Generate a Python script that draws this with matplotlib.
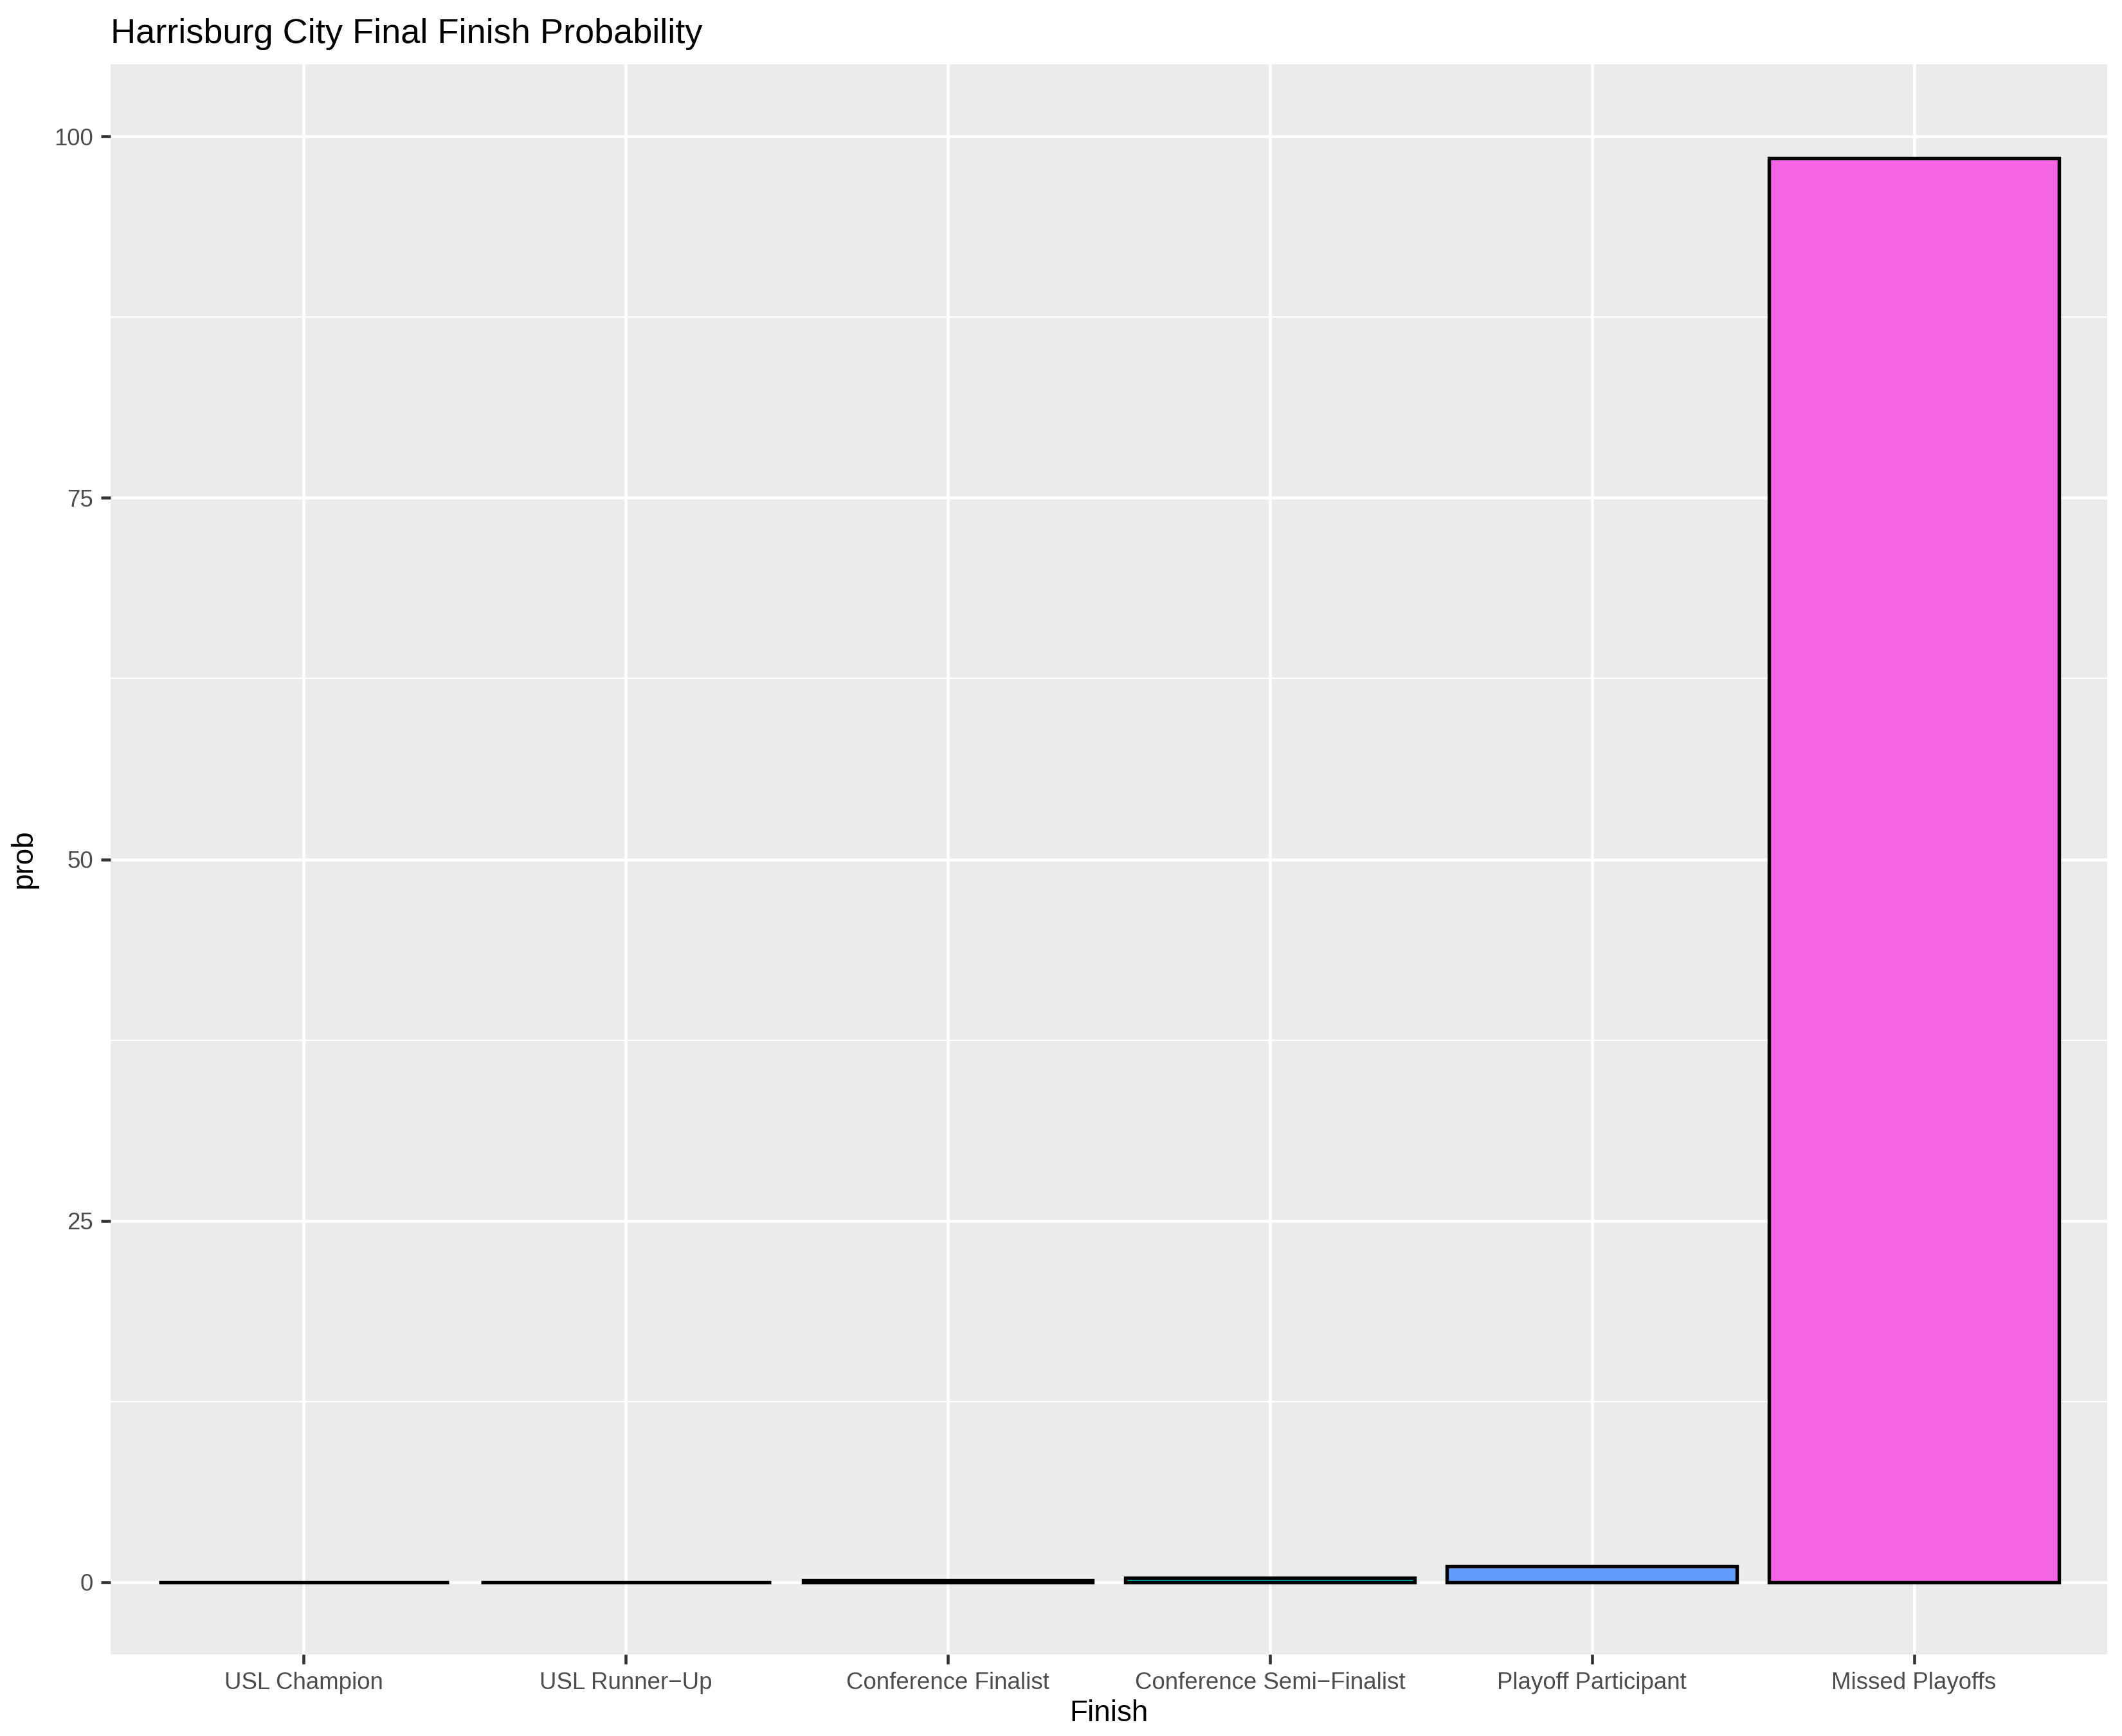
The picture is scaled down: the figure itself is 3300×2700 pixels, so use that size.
import matplotlib
matplotlib.use("Agg")
import matplotlib.pyplot as plt
from matplotlib.ticker import MultipleLocator

## Data
finishes = ["USL Champion", "USL Runner\u2212Up", "Conference Finalist",
            "Conference Semi\u2212Finalist", "Playoff Participant", "Missed Playoffs"]
prob = [0.0, 0.0, 0.1, 0.3, 1.1, 98.5]
colors = ["#F8766D", "#B79F00", "#00BA38", "#00BFC4", "#619CFF", "#F564E3"]

plt.rcParams['font.family'] = ['Liberation Sans', 'DejaVu Sans']

fig = plt.figure(figsize=(11, 9), dpi=300)
# panel placed where the reference has it (pixels of a 3300x2700 image)
ax = fig.add_axes([172 / 3300, 1 - 2573 / 2700, (3277 - 172) / 3300, (2573 - 100) / 2700])
ax.set_facecolor("#EBEBEB")

x = list(range(len(finishes)))
ax.bar(x, prob, width=0.9, color=colors, edgecolor="black", linewidth=1.3, zorder=3)

# y scale runs 0..100 with 5% padding, as in the reference
ax.set_ylim(-5, 105)
ax.set_xlim(-0.6, len(finishes) - 0.4)
ax.yaxis.set_major_locator(MultipleLocator(25))
ax.yaxis.set_minor_locator(MultipleLocator(12.5))
ax.set_xticks(x)
ax.set_xticklabels(finishes)

ax.grid(which="major", color="white", linewidth=1.1, zorder=0)
ax.grid(which="minor", axis="y", color="white", linewidth=0.55, zorder=0)
ax.set_axisbelow(True)
for s in ax.spines.values():
    s.set_visible(False)

ax.tick_params(axis="both", which="major", length=3.5, width=1.1, color="#333333",
               labelsize=8.8, labelcolor="#4D4D4D", pad=3)
ax.tick_params(axis="both", which="minor", length=0)

ax.set_xlabel("Finish", fontsize=11, labelpad=2)
ax.set_ylabel("prob", fontsize=11, labelpad=6)
ax.set_title("Harrisburg City Final Finish Probability", fontsize=13, loc="left", pad=8)

fig.savefig("out.png", dpi=300)
